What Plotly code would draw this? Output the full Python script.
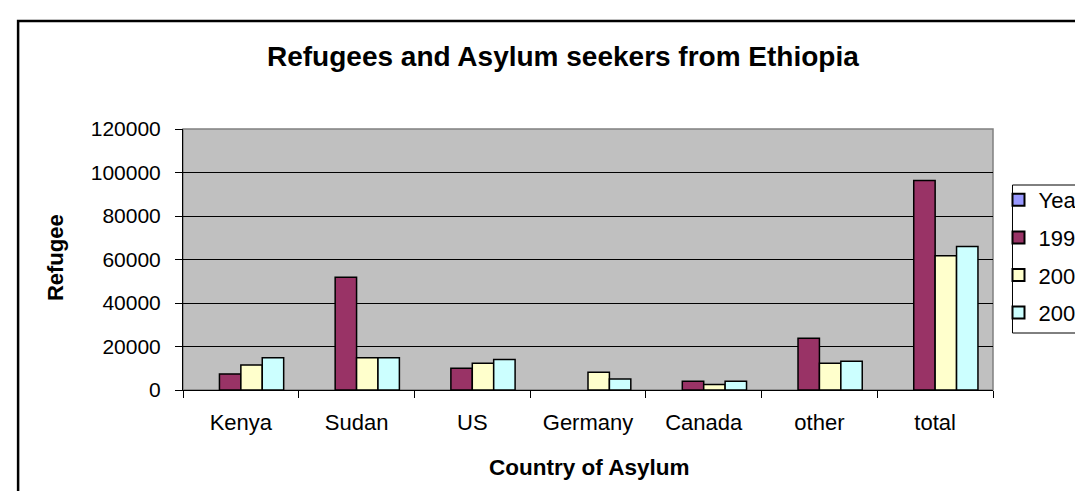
import plotly.graph_objects as go

categories = ["Kenya", "Sudan", "US", "Germany", "Canada", "other", "total"]
series_names = ["Year", "1996", "2002", "2005"]
year_vals = [None, None, None, None, None, None, None]
vals_1996 = [7400, 51800, 10000, None, 4000, 23800, 96300]
vals_2002 = [11500, 14800, 12300, 8200, 2500, 12300, 61700]
vals_2005 = [14800, 14800, 14000, 5100, 4000, 13200, 66000]
y_ticks = [0, 20000, 40000, 60000, 80000, 100000, 120000]
colors = ["#9999FF", "#993366", "#FFFFCC", "#CCFFFF"]

W, H = 1083, 491
L, R, T, B = 175, 985.5, 121, 382  # plot area in pixels
pw, ph = R - L, B - T

def px(x):
    return (x - L) / pw

def py(y):
    return (B - y) / ph

fig = go.Figure()
for name, vals, col in zip(series_names, [year_vals, vals_1996, vals_2002, vals_2005], colors):
    fig.add_trace(go.Bar(
        x=categories, y=vals, name=name, legendgroup=name,
        marker=dict(color=col, line=dict(color="black", width=1.5)),
    ))

font = "Liberation Sans, Arial, sans-serif"
fig.update_layout(
    width=W, height=H,
    margin=dict(l=L, r=W - R, t=T, b=H - B, autoexpand=False),
    paper_bgcolor="white",
    plot_bgcolor="#C0C0C0",
    barmode="group",
    bargap=0.26,
    bargroupgap=0,
    font=dict(family=font, size=21, color="black"),
    showlegend=True,
    legend=dict(
        x=px(991), xanchor="left", y=py(171), yanchor="top",
        borderwidth=0, bgcolor="rgba(0,0,0,0)",
        font=dict(size=22), tracegroupgap=6, itemsizing="constant",
    ),
    xaxis=dict(
        showline=True, linecolor="black", linewidth=1, mirror=False,
        ticks="outside", ticklen=7, tickcolor="black", tickson="boundaries",
        ticklabelstandoff=13, showgrid=False, tickfont=dict(size=22),
    ),
    yaxis=dict(
        range=[0, 120000], tickvals=y_ticks, ticktext=[str(v) for v in y_ticks],
        showline=True, linecolor="black", linewidth=1,
        ticks="outside", ticklen=7, tickcolor="black",
        ticklabelstandoff=10,
        showgrid=True, gridcolor="black", gridwidth=1,
        zeroline=False, tickfont=dict(size=21),
    ),
    shapes=[
        # plot area border (gray) on top/right
        dict(type="rect", xref="paper", yref="paper", x0=0, x1=1, y0=0, y1=1,
             line=dict(color="#808080", width=1.5), layer="below"),
        # chart area border
        dict(type="rect", xref="paper", yref="paper",
             x0=px(10), x1=px(1100), y0=py(510), y1=py(13),
             line=dict(color="black", width=2.5)),
        # legend box
        dict(type="rect", xref="paper", yref="paper",
             x0=px(1005), x1=px(1100), y0=py(325), y1=py(177),
             line=dict(color="black", width=1), fillcolor="white", layer="below"),
    ],
    annotations=[
        dict(text="<b>Refugees and Asylum seekers from Ethiopia</b>", xref="paper", yref="paper",
             x=px(555), y=py(49), xanchor="center", yanchor="middle", showarrow=False,
             font=dict(size=28)),
        dict(text="<b>Country of Asylum</b>", xref="paper", yref="paper",
             x=px(581), y=py(459), xanchor="center", yanchor="middle", showarrow=False,
             font=dict(size=22.5)),
        dict(text="<b>Refugee</b>", xref="paper", yref="paper",
             x=px(47), y=py(250), xanchor="center", yanchor="middle", showarrow=False,
             textangle=-90, font=dict(size=22)),
    ],
)

fig.write_html("out.html")
